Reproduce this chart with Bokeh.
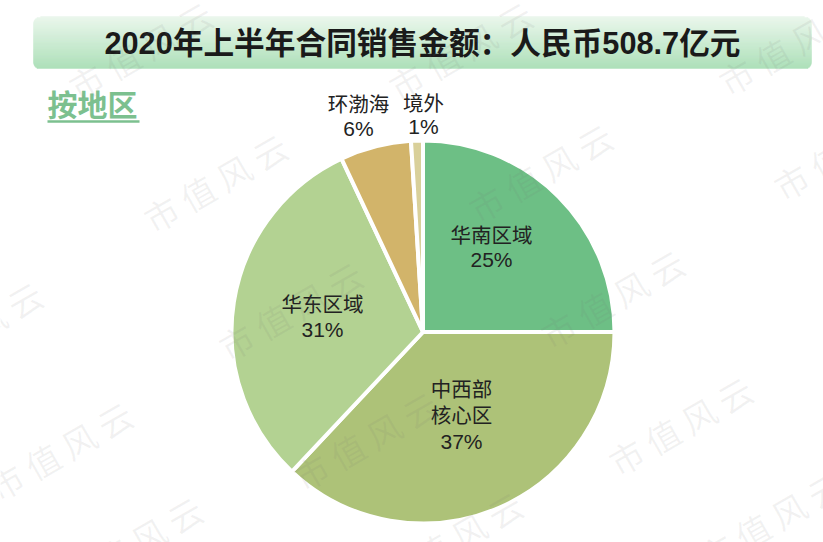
from math import pi
from bokeh.plotting import figure
from bokeh.models import Range1d, ColumnDataSource
from bokeh.core.properties import value
from bokeh.embed import file_html
from bokeh.resources import INLINE

TITLE = "2020年上半年合同销售金额：人民币508.7亿元"
SUBTITLE = "按地区"
regions = ["华南区域", "中西部\n核心区", "华东区域", "环渤海", "境外"]
shares = [25, 37, 31, 6, 1]
colors = ["#6dbf85", "#adc278", "#b3d292", "#d2b46a", "#d9d09a"]

W, H = 823, 542
FONT = value("Liberation Sans, Noto Sans CJK SC")


def sy(y):
    return H - y


p = figure(width=W, height=H, output_backend="svg", toolbar_location=None,
           x_range=Range1d(0, W), y_range=Range1d(0, H),
           x_axis_type=None, y_axis_type=None, min_border=0,
           outline_line_color=None, background_fill_color="white")
p.grid.visible = False

# title banner: vertical gradient with rounded corners
top, bot, left, right, rad = 16, 68, 33, 811, 7
c0, c1 = (232, 246, 234), (163, 220, 176)
for y in range(top, bot):
    t = (y - top) / (bot - top - 1)
    d = 0
    if y - top < rad:
        d = rad - (rad ** 2 - (rad - (y - top)) ** 2) ** 0.5
    elif bot - y <= rad:
        d = rad - (rad ** 2 - (rad - (bot - y)) ** 2) ** 0.5
    col = "#%02x%02x%02x" % tuple(round(a + (b - a) * t) for a, b in zip(c0, c1))
    p.quad(left=left + d, right=right - d, top=sy(y), bottom=sy(y + 1),
           fill_color=col, line_color=col, line_width=0.3)

p.text([422], [sy(43)], text=[TITLE], text_font=FONT, text_font_size="30.7px",
       text_font_style="bold", text_color="#1a1a1a", text_align="center", text_baseline="middle")

# subtitle
p.text([47], [sy(105)], text=[SUBTITLE], text_font=FONT, text_font_size="30px",
       text_font_style="bold", text_color="#7cc08f", text_align="left", text_baseline="middle")
p.segment([47], [sy(121)], [139], [sy(121)], line_color="#7cc08f", line_width=2.5)

# pie
total = sum(shares)
starts, ends, acc = [], [], 0
for s in shares:
    starts.append(pi / 2 - 2 * pi * acc / total)
    acc += s
    ends.append(pi / 2 - 2 * pi * acc / total)
src = ColumnDataSource(dict(start=starts, end=ends, color=colors))
p.wedge(x=422.5, y=sy(331.5), radius=191.5, start_angle="start", end_angle="end",
        direction="clock", fill_color="color", line_color="white", line_width=4, source=src)

# labels
label_x = [491, 461, 322, 358, 423]
label_y = [235, 389, 304, 104, 103]
pct_y = [259, 441, 329, 128, 126]
line_y = 415
for r, s, x, y, py in zip(regions, shares, label_x, label_y, pct_y):
    parts = r.split("\n")
    ys = [y] if len(parts) == 1 else [y, line_y]
    for part, yy in zip(parts, ys):
        p.text([x], [sy(yy)], text=[part], text_font=FONT, text_font_size="20.5px",
               text_color="#222222", text_align="center", text_baseline="middle")
    p.text([x], [sy(py)], text=[f"{s}%"], text_font=FONT, text_font_size="21px",
           text_color="#222222", text_align="center", text_baseline="middle")

# watermark
wm_x = [140, 460, 790, 215, 540, 845, -30, 290, 612, 60, 365, 680, 130, 450, 770]
wm_y = [50, 50, 45, 182, 172, 150, 330, 310, 298, 450, 440, 425, 545, 540, 520]
p.text(wm_x, [sy(v) for v in wm_y], text=["市 值 风 云"] * len(wm_x),
       text_font=value("Noto Sans CJK SC"), text_font_size="34px", angle=0.52,
       text_color="#707070", text_alpha=0.09, text_align="center", text_baseline="middle")

open("out.html", "w").write(file_html(p, INLINE))
